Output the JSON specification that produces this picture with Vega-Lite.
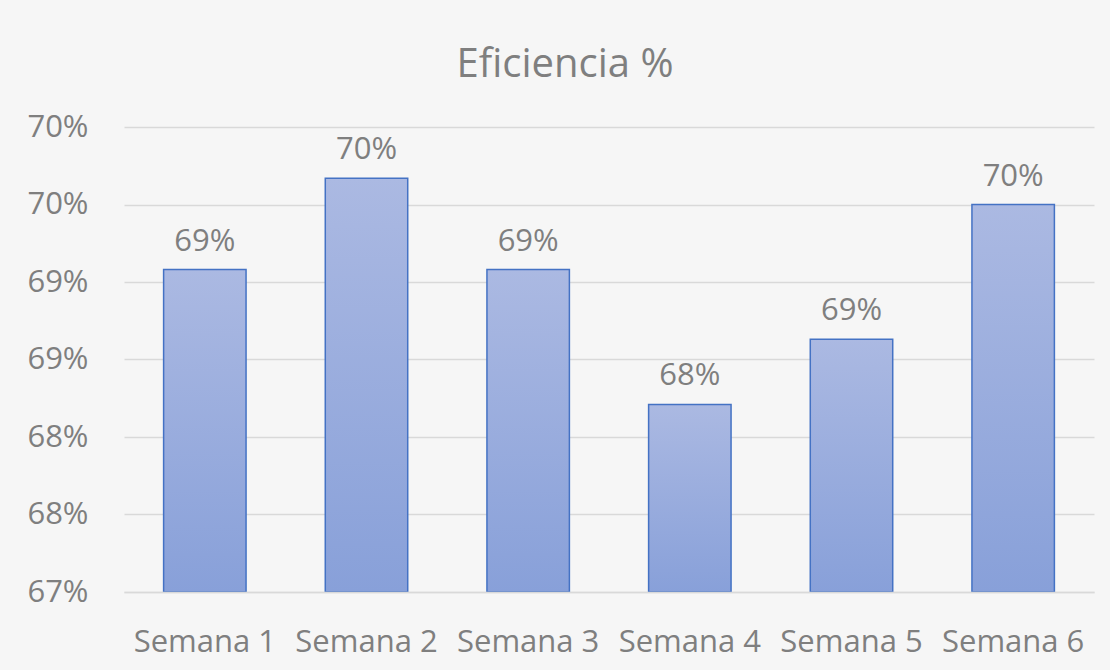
{
  "$schema": "https://vega.github.io/schema/vega-lite/v6.json",
  "autosize": {"type": "none"},
  "width": 970,
  "height": 465,
  "padding": {"left": 124, "top": 127, "right": 16, "bottom": 78},
  "background": "#f6f6f6",
  "title": {
    "text": "Eficiencia %",
    "font": "Open Sans",
    "fontSize": 40,
    "fontWeight": "normal",
    "color": "#7f7f7f",
    "anchor": "middle",
    "baseline": "alphabetic",
    "offset": -6,
    "dx": -44
  },
  "config": {
    "view": {"stroke": null},
    "font": "Open Sans"
  },
  "data": {
    "values": [
      {"semana": "Semana 1", "eficiencia": 0.6908},
      {"semana": "Semana 2", "eficiencia": 0.6967},
      {"semana": "Semana 3", "eficiencia": 0.6908},
      {"semana": "Semana 4", "eficiencia": 0.6821},
      {"semana": "Semana 5", "eficiencia": 0.6863},
      {"semana": "Semana 6", "eficiencia": 0.6950}
    ]
  },
  "encoding": {
    "x": {
      "field": "semana",
      "type": "nominal",
      "sort": null,
      "scale": {"paddingInner": 0.49, "paddingOuter": 0.245},
      "axis": {
        "title": null,
        "labelAngle": 0,
        "labelFont": "Open Sans",
        "labelFontSize": 31,
        "labelColor": "#7f7f7f",
        "labelBaseline": "alphabetic",
        "labelPadding": 59,
        "ticks": false,
        "domainColor": "#d9d9d9",
        "domainWidth": 1.5,
        "grid": false,
        "zindex": 1
      }
    },
    "y": {
      "field": "eficiencia",
      "type": "quantitative",
      "scale": {"domain": [0.67, 0.70], "zero": false, "nice": false},
      "axis": {
        "title": null,
        "values": [0.67, 0.675, 0.68, 0.685, 0.69, 0.695, 0.70],
        "labelExpr": "format(round(datum.value*1000)/10, '.0f') + '%'",
        "labelFont": "Open Sans",
        "labelFontSize": 31,
        "labelColor": "#7f7f7f",
        "labelPadding": 36,
        "ticks": false,
        "domain": false,
        "grid": true,
        "gridColor": "#d9d9d9",
        "gridWidth": 1.5
      }
    }
  },
  "layer": [
    {
      "mark": {
        "type": "bar",
        "stroke": "#4472c4",
        "strokeWidth": 1.5,
        "color": {
          "gradient": "linear",
          "x1": 0, "y1": 0, "x2": 0, "y2": 1,
          "stops": [
            {"offset": 0, "color": "#abb9e2"},
            {"offset": 1, "color": "#88a0d9"}
          ]
        }
      },
      "encoding": {
        "y2": {"datum": 0.67}
      }
    },
    {
      "mark": {
        "type": "text",
        "font": "Open Sans",
        "fontSize": 31,
        "color": "#7f7f7f",
        "baseline": "alphabetic",
        "dy": -19
      },
      "encoding": {
        "text": {"field": "eficiencia", "type": "quantitative", "format": ".0%"}
      }
    }
  ]
}
